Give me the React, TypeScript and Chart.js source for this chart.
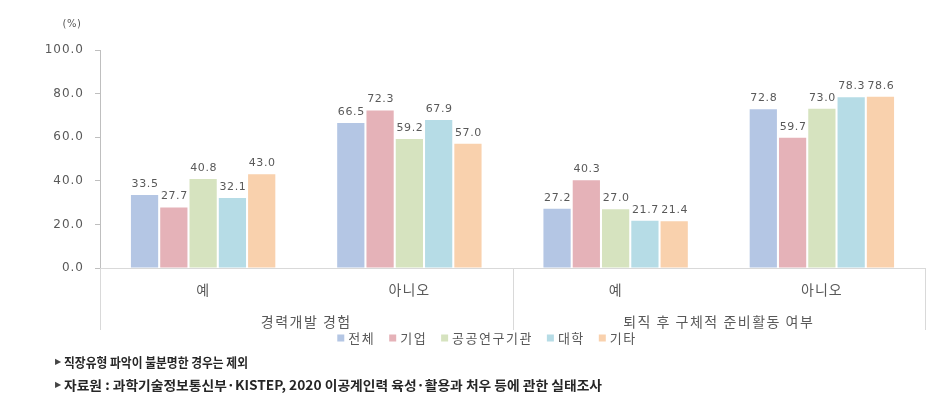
import React, { useEffect, useRef } from 'react';
import { Chart, registerables } from 'chart.js';

Chart.register(...registerables);

const categories = ['예', '아니오', '예', '아니오'];
const groups = ['경력개발 경험', '퇴직 후 구체적 준비활동 여부'];
const seriesNames = ['전체', '기업', '공공연구기관', '대학', '기타'];
const total = [33.5, 66.5, 27.2, 72.8];
const company = [27.7, 72.3, 40.3, 59.7];
const publicInst = [40.8, 59.2, 27.0, 73.0];
const university = [32.1, 67.9, 21.7, 78.3];
const other = [43.0, 57.0, 21.4, 78.6];
const yMin = 0;
const yMax = 100;
const yStep = 20;
const unitLabel = '(%)';
const notes = [
  '직장유형 파악이 불분명한 경우는 제외',
  '자료원 : 과학기술정보통신부·KISTEP, 2020 이공계인력 육성·활용과 처우 등에 관한 실태조사',
];
const colors = ['#b4c6e4', '#e5b2b8', '#d6e3bf', '#b6dce6', '#f9d1ad'];

const GRAY = '#595959';
const KR = '"Noto Sans CJK KR", sans-serif';

const overlay = {
  id: 'overlay',
  beforeDraw(chart: any) {
    chart.ctx.letterSpacing = '1px';
  },
  afterDatasetsDraw(chart: any) {
    const ctx = chart.ctx;
    ctx.save();
    ctx.font = '11px "DejaVu Sans"';
    ctx.letterSpacing = '0.6px';
    ctx.fillStyle = GRAY;
    ctx.textAlign = 'center';
    ctx.textBaseline = 'middle';
    chart.data.datasets.forEach((ds: any, i: number) => {
      const meta = chart.getDatasetMeta(i);
      meta.data.forEach((bar: any, j: number) => {
        ctx.fillText(Number(ds.data[j]).toFixed(1), bar.x + 0.5, bar.y - 11);
      });
    });
    ctx.restore();
  },
  afterDraw(chart: any) {
    const ctx = chart.ctx;
    const xs = chart.scales.x;
    const ca = chart.chartArea;
    ctx.save();
    // separators of the multi-level axis
    const mid = (xs.getPixelForValue(1) + xs.getPixelForValue(2)) / 2;
    ctx.strokeStyle = '#d9d9d9';
    ctx.lineWidth = 1;
    [ca.left, mid, ca.right].forEach((x) => {
      const px = Math.round(x) + 0.5;
      ctx.beginPath();
      ctx.moveTo(px, ca.bottom);
      ctx.lineTo(px, ca.bottom + 62);
      ctx.stroke();
    });
    // group labels
    ctx.font = '14px ' + KR;
    ctx.letterSpacing = '1.5px';
    ctx.fillStyle = GRAY;
    ctx.textAlign = 'center';
    ctx.textBaseline = 'middle';
    ctx.fillText(groups[0], (ca.left + mid) / 2, ca.bottom + 54);
    ctx.fillText(groups[1], (mid + ca.right) / 2, ca.bottom + 54);

    // unit label
    ctx.font = '10px "DejaVu Sans"';
    ctx.letterSpacing = '0.5px';
    ctx.fillText(unitLabel, 72, 24);

    // legend
    ctx.font = '13px ' + KR;
    ctx.letterSpacing = '1.5px';
    ctx.textAlign = 'left';
    const box = 7;
    const gapBox = 4;
    const gapItem = 14;
    const widths = seriesNames.map((n) => ctx.measureText(n).width);
    const totalW = widths.reduce((a, w) => a + box + gapBox + w, 0) + gapItem * (seriesNames.length - 1);
    let lx = 487 - totalW / 2;
    const ly = ca.bottom + 70;
    seriesNames.forEach((n, i) => {
      ctx.fillStyle = colors[i];
      ctx.fillRect(lx, ly - box / 2, box, box);
      lx += box + gapBox;
      ctx.fillStyle = GRAY;
      ctx.fillText(n, lx, ly);
      lx += widths[i] + gapItem;
    });

    // notes
    ctx.font = 'bold 13px ' + KR;
    ctx.letterSpacing = '0px';
    ctx.fillStyle = '#262626';
    const noteTargets = [193, 547];
    const noteYs = [362, 385];
    notes.forEach((t, i) => {
      ctx.save();
      ctx.fillStyle = '#444';
      ctx.font = '8px "DejaVu Sans"';
      ctx.fillText('▶', 55, noteYs[i]);
      ctx.restore();
      const w = ctx.measureText(t).width;
      ctx.save();
      ctx.translate(64, noteYs[i]);
      ctx.scale((noteTargets[i] - 9) / w, 1);
      ctx.fillText(t, 0, 0);
      ctx.restore();
    });
    ctx.restore();
  },
};

export default function App() {
  const ref = useRef<HTMLCanvasElement | null>(null);
  useEffect(() => {
    document.body.style.margin = '0';
    const chart = new Chart(ref.current as HTMLCanvasElement, {
      type: 'bar',
      data: {
        labels: categories,
        datasets: [total, company, publicInst, university, other].map((d, i) => ({
          label: seriesNames[i],
          data: d,
          backgroundColor: colors[i],
          categoryPercentage: 0.71,
          barPercentage: 0.93,
        })),
      },
      options: {
        responsive: true,
        maintainAspectRatio: false,
        animation: false,
        layout: { padding: { top: 50, right: 14, left: 0, bottom: 0 } },
        plugins: { legend: { display: false }, tooltip: { enabled: false } },
        scales: {
          x: {
            grid: { display: false },
            border: { display: true, color: '#d9d9d9' },
            ticks: { color: GRAY, font: { family: 'Noto Sans CJK KR', size: 14 }, padding: 5, maxRotation: 0 },
            afterFit: (s: any) => { s.height = 135; },
          },
          y: {
            min: yMin,
            max: yMax,
            ticks: {
              stepSize: yStep,
              color: GRAY,
              font: { family: 'DejaVu Sans', size: 12 },
              padding: 11,
              callback: (v: any) => Number(v).toFixed(1),
            },
            grid: { drawOnChartArea: false, drawTicks: true, tickLength: 5, color: '#bfbfbf' },
            border: { display: true, color: '#bfbfbf' },
            afterFit: (s: any) => { s.width = 100; },
          },
        },
      },
      plugins: [overlay],
    });
    return () => chart.destroy();
  }, []);
  return (
    <div style={{ width: 939, height: 403, position: 'relative' }}>
      <canvas ref={ref} />
    </div>
  );
}
